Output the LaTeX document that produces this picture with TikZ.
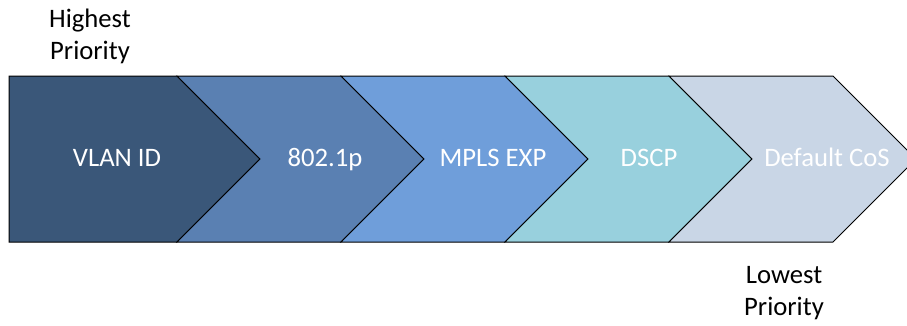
\documentclass[tikz,border=0pt]{standalone}
\usepackage{fontspec}
\setmainfont{Carlito}
\definecolor{vlanfill}{HTML}{3A5779}
\definecolor{dotfill}{HTML}{5A80B2}
\definecolor{mplsfill}{HTML}{6F9EDA}
\definecolor{dscpfill}{HTML}{98D0DD}
\definecolor{cosfill}{HTML}{C9D6E6}
\begin{document}
\begin{tikzpicture}[x=0.75pt, y=-0.75pt,
    txt/.style={font=\fontsize{20}{24}\selectfont, inner sep=0pt, anchor=base},
    chev/.style={draw=black, line width=0.75pt, line join=miter}]
    \useasboundingbox (0,0) rectangle (907,325);
    \clip (0,0) rectangle (907,325);
    % first chevron has a flat left side
    \draw[chev, fill=vlanfill] (9,76) -- (177,76) -- (260,159) -- (177,242) -- (9,242) -- cycle;
    \foreach \xl/\col in {177/dotfill, 341/mplsfill, 505/dscpfill, 669/cosfill} {
        \draw[chev, fill=\col] (\xl,76) -- ({\xl+164},76) -- ({\xl+247},159)
            -- ({\xl+164},242) -- (\xl,242) -- ({\xl+83},159) -- cycle;
    }
    \node[txt, white] (vlan) at (117,166) {VLAN ID};
    \node[txt, white] (dotp) at (325,166) {802.1p};
    \node[txt, white] (mpls) at (493,166) {MPLS EXP};
    \node[txt, white] (dscp) at (649,166) {DSCP};
    \node[txt, white] (cos) at (827,166) {Default CoS};
    % base anchor sits on the last line
    \node[txt, align=center] (high) at (90,59) {Highest\\Priority};
    \node[txt, align=center] (low) at (784,315) {Lowest\\Priority};
\end{tikzpicture}
\end{document}
